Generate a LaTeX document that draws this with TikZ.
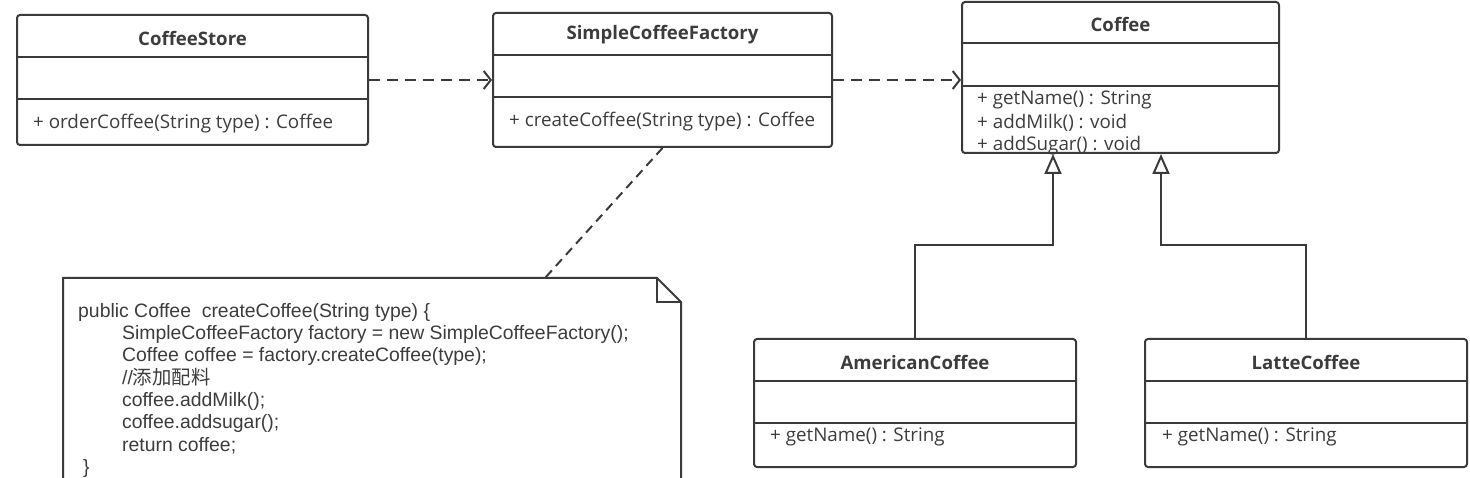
\documentclass[tikz,border=0pt]{standalone}
\usepackage{fontspec}
\setmainfont{Open Sans}
\newfontfamily\codefont{Liberation Sans}
\newfontfamily\cjk{Noto Sans CJK SC}
\usetikzlibrary{arrows.meta}
\definecolor{umlline}{HTML}{3A3A3A}
\definecolor{umltext}{HTML}{3C3C3C}
\begin{document}
\begin{tikzpicture}[x=1pt, y=-1pt,
  cls/.style={draw=umlline, line width=2pt, rounded corners=3pt, inner sep=0pt},
  sep/.style={draw=umlline, line width=2pt},
  cname/.style={font=\fontsize{18.6}{21}\selectfont\bfseries, text=umltext, inner sep=0pt},
  meth/.style={font=\fontsize{18.8}{21}\selectfont, text=umltext, anchor=west, inner sep=0pt},
  dep/.style={umlline, line width=2pt, dash pattern=on 11pt off 7pt,
    -{Straight Barb[length=7pt, width=18pt, line width=2pt]}},
  inh/.style={umlline, line width=2pt,
    -{Triangle[open, length=20pt, width=17pt, line width=2pt]}},
  notelink/.style={umlline, line width=2pt, dash pattern=on 9pt off 6pt},
  code/.style={font=\codefont\fontsize{19.4}{22.3}\selectfont, text=umltext,
    align=left, inner sep=0pt, anchor=north west}
]
\useasboundingbox (0,0) rectangle (1470,478);
\clip (0,0) rectangle (1470,478);

%% Classes
\node[cls, minimum width=351pt, minimum height=130pt] (store) at (192.5,80) {};
\draw[sep] (store.west |- 0,57) -- (store.east |- 0,57);
\draw[sep] (store.west |- 0,99) -- (store.east |- 0,99);
\node[cname] (store-name) at (store.north |- 0,38) {CoffeeStore};
\node[meth] (store-m1) at (33,124) {+ orderCoffee(String type) : Coffee};

\node[cls, minimum width=339pt, minimum height=134pt] (factory) at (662.5,80) {};
\draw[sep] (factory.west |- 0,55) -- (factory.east |- 0,55);
\draw[sep] (factory.west |- 0,97) -- (factory.east |- 0,97);
\node[cname] (factory-name) at (factory.north |- 0,35) {SimpleCoffeeFactory};
\node[meth] (factory-m1) at (509,122) {+ createCoffee(String type) : Coffee};

\node[meth] (coffee-m1) at (977,100) {+ getName() : String};
\node[meth] (coffee-m2) at (977,123) {+ addMilk() : void};
\node[meth] (coffee-m3) at (977,146) {+ addSugar() : void};
\node[cls, minimum width=317pt, minimum height=151pt] (coffee) at (1120.5,77.5) {};
\draw[sep] (coffee.west |- 0,43) -- (coffee.east |- 0,43);
\draw[sep] (coffee.west |- 0,86) -- (coffee.east |- 0,86);
\node[cname] (coffee-name) at (coffee.north |- 0,24) {Coffee};

\node[cls, minimum width=322pt, minimum height=128pt] (american) at (915,403) {};
\draw[sep] (american.west |- 0,381) -- (american.east |- 0,381);
\draw[sep] (american.west |- 0,423) -- (american.east |- 0,423);
\node[cname] (american-name) at (american.north |- 0,362) {AmericanCoffee};
\node[meth] (american-m1) at (770,437) {+ getName() : String};

\node[cls, minimum width=322pt, minimum height=128pt] (latte) at (1306,403) {};
\draw[sep] (latte.west |- 0,381) -- (latte.east |- 0,381);
\draw[sep] (latte.west |- 0,423) -- (latte.east |- 0,423);
\node[cname] (latte-name) at (latte.north |- 0,362) {LatteCoffee};
\node[meth] (latte-m1) at (1162,437) {+ getName() : String};

%% Dependencies
\draw[dep] (store) -- (factory);
\draw[dep] (factory.east) -- (factory.east -| coffee.west);

%% Generalization
\coordinate (bend-a) at (1053,245);
\coordinate (bend-l) at (1161,245);
\draw[inh] (american.north) |- (bend-a) -- (bend-a |- coffee.south);
\draw[inh] (latte.north) |- (bend-l) -- (bend-l |- coffee.south);

%% Note
\coordinate (note-top) at (545,278);
\draw[sep, line join=miter] (63,278) -- (657,278) -- (681,302) -- (681,500) -- (63,500) -- cycle;
\draw[sep, line join=miter] (657,278) -- (657,302) -- (681,302);
\draw[notelink] (factory.south) -- (note-top);
\node[code] (code) at (78,303) {public Coffee~ createCoffee(String type) \{\\
  \hspace*{44pt}SimpleCoffeeFactory factory = new SimpleCoffeeFactory();\\
  \hspace*{44pt}Coffee coffee = factory.createCoffee(type);\\
  \hspace*{44pt}//{\cjk 添加配料}\\
  \hspace*{44pt}coffee.addMilk();\\
  \hspace*{44pt}coffee.addsugar();\\
  \hspace*{44pt}return coffee;\\
  \hspace*{5pt}\}};
\end{tikzpicture}
\end{document}
